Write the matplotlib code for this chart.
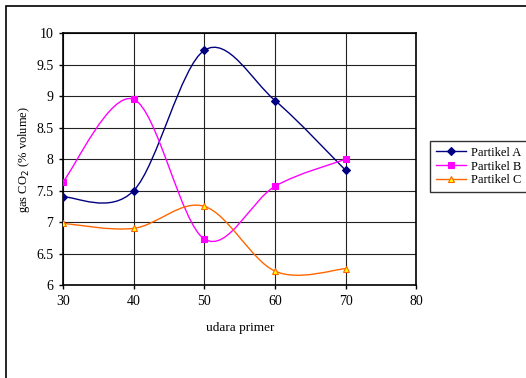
import matplotlib
matplotlib.use('Agg')
import matplotlib.pyplot as plt
from matplotlib.path import Path
from matplotlib.patches import PathPatch, Rectangle
from matplotlib.lines import Line2D
from matplotlib.ticker import MultipleLocator

plt.rcParams.update({
    "font.family": ["Liberation Serif", "DejaVu Serif"],
    "font.size": 10,
})

# data
udara_primer = [30, 40, 50, 60, 70]
partikel_a = [7.40, 7.50, 9.73, 8.93, 7.82]
partikel_b = [7.64, 8.95, 6.73, 7.57, 8.00]
partikel_c = [6.98, 6.90, 7.25, 6.22, 6.26]
series_names = ["Partikel A", "Partikel B", "Partikel C"]


def smooth_path(xs, ys):
    # Excel-like smoothed line: cubic bezier through the data points
    pts = list(zip(xs, ys))
    n = len(pts)
    verts = [pts[0]]
    codes = [Path.MOVETO]
    for i in range(n - 1):
        p0 = pts[i - 1] if i > 0 else pts[i]
        p1 = pts[i]
        p2 = pts[i + 1]
        p3 = pts[i + 2] if i + 2 < n else pts[i + 1]
        c1 = (p1[0] + (p2[0] - p0[0]) / 6, p1[1] + (p2[1] - p0[1]) / 6)
        c2 = (p2[0] - (p3[0] - p1[0]) / 6, p2[1] - (p3[1] - p1[1]) / 6)
        verts += [c1, c2, p2]
        codes += [Path.CURVE4] * 3
    return Path(verts, codes)


fig = plt.figure(figsize=(5.26, 3.78), dpi=100)
ax = fig.add_axes([0.1198, 0.246, 0.672, 0.666])

# outer chart border
fig.patches.append(Rectangle((6 / 526, -0.05), 1.1, 1 - 6 / 378 + 0.05,
                             transform=fig.transFigure, fill=False,
                             edgecolor='black', linewidth=1.2))

styles = [
    dict(color='#000080', marker='D', ms=4, mfc='#000080', mec='#000080'),
    dict(color='#FF00FF', marker='s', ms=5, mfc='#FF00FF', mec='#FF00FF'),
    dict(color='#FF6600', marker='^', ms=5, mfc='#FFFF00', mec='#FF6600'),
]
handles = []
for ys, name, st in zip([partikel_a, partikel_b, partikel_c], series_names, styles):
    ax.add_patch(PathPatch(smooth_path(udara_primer, ys), fill=False,
                           edgecolor=st['color'], linewidth=1.0, zorder=3))
    ax.plot(udara_primer, ys, linestyle='none', marker=st['marker'], ms=st['ms'],
            mfc=st['mfc'], mec=st['mec'], mew=0.8, zorder=4)
    handles.append(Line2D([], [], color=st['color'], lw=1.0, marker=st['marker'],
                          ms=st['ms'], mfc=st['mfc'], mec=st['mec'], mew=0.8))

ax.set_xlim(30, 80)
ax.set_ylim(6, 10)
ax.xaxis.set_major_locator(MultipleLocator(10))
ax.yaxis.set_major_locator(MultipleLocator(0.5))
ax.yaxis.set_major_formatter(plt.FuncFormatter(lambda v, p: f'{v:g}'))
ax.grid(True, color='#222222', linewidth=0.8)
ax.set_axisbelow(True)
for s in ax.spines.values():
    s.set_linewidth(1.2)
ax.tick_params(direction='out', length=3, width=1, labelsize=10, pad=4)

ax.set_xlabel('udara primer', fontsize=9.5, labelpad=10)
ax.set_ylabel('gas CO$_2$ (% volume)', fontsize=9, labelpad=3)

leg = fig.legend(handles, series_names, loc='upper left',
                 bbox_to_anchor=(430 / 526, 1 - 141 / 378), fontsize=9,
                 frameon=True, fancybox=False, handlelength=2.4,
                 borderpad=0.45, labelspacing=0.15, handletextpad=0.4,
                 borderaxespad=0)
leg.get_frame().set_edgecolor('black')
leg.get_frame().set_linewidth(1.0)

fig.savefig('out.png', dpi=100)
